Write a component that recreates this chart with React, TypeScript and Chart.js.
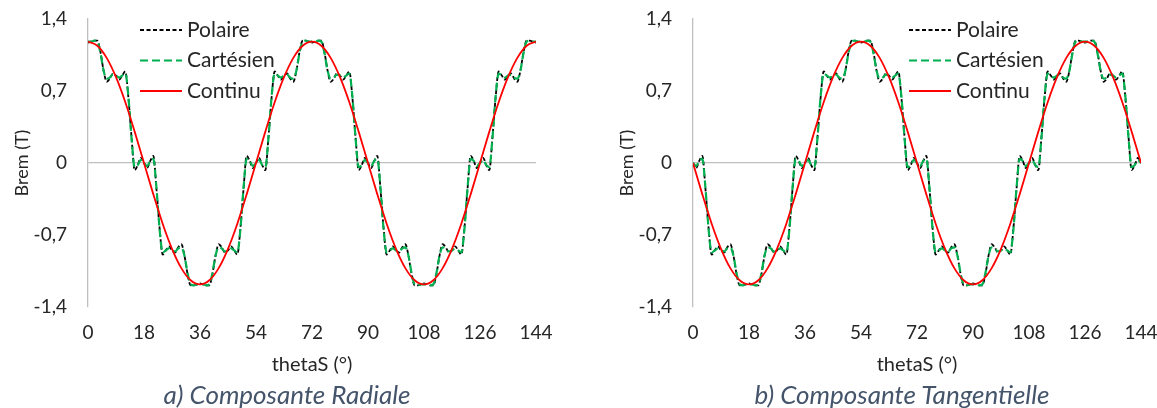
import React, { useEffect, useRef } from 'react';
import { Chart, registerables } from 'chart.js';

Chart.register(...registerables);

// ---------- data ----------
const thetaFine = [
  0, 1, 2, 3, 4, 5, 6, 7, 8, 9, 10, 11, 12, 13, 14, 15, 16, 17, 18,
  19, 20, 21, 22, 23, 24, 25, 26, 27, 28, 29, 30, 31, 32, 33, 34, 35, 36,
  37, 38, 39, 40, 41, 42, 43, 44, 45, 46, 47, 48, 49, 50, 51, 52, 53, 54,
  55, 56, 57, 58, 59, 60, 61, 62, 63, 64, 65, 66, 67, 68, 69, 70, 71, 72,
  73, 74, 75, 76, 77, 78, 79, 80, 81, 82, 83, 84, 85, 86, 87, 88, 89, 90,
  91, 92, 93, 94, 95, 96, 97, 98, 99, 100, 101, 102, 103, 104, 105, 106, 107, 108,
  109, 110, 111, 112, 113, 114, 115, 116, 117, 118, 119, 120, 121, 122, 123, 124, 125, 126,
  127, 128, 129, 130, 131, 132, 133, 134, 135, 136, 137, 138, 139, 140, 141, 142, 143, 144,
];

const thetaCoarse = [
  0, 3, 6, 9, 12, 15, 18, 21, 24, 27, 30, 33, 36, 39, 42, 45, 48, 51, 54, 57, 60, 63, 66, 69, 72,
  75, 78, 81, 84, 87, 90, 93, 96, 99, 102, 105, 108, 111, 114, 117, 120, 123, 126, 129, 132, 135, 138, 141, 144,
];

const xTickValues = [0, 18, 36, 54, 72, 90, 108, 126, 144];
const yTickValues = [-1.4, -0.7, 0, 0.7, 1.4];
const yTickLabels = ['-1,4', '-0,7', '0', '0,7', '1,4'];
const seriesNames = ['Polaire', 'Cartésien', 'Continu'];

const radialPolaire = [
  1.17, 1.18, 1.19, 1.19, 1.08, 0.90, 0.79, 0.82, 0.87, 0.85, 0.81, 0.85, 0.89, 0.63, 0.25, -0.07, -0.02, 0.05, 0,
  -0.05, 0.02, 0.07, -0.25, -0.63, -0.89, -0.85, -0.81, -0.85, -0.87, -0.82, -0.79, -0.90, -1.08, -1.19, -1.19, -1.18, -1.17,
  -1.18, -1.19, -1.19, -1.08, -0.90, -0.79, -0.82, -0.87, -0.85, -0.81, -0.85, -0.89, -0.63, -0.25, 0.07, 0.02, -0.05, 0,
  0.05, -0.02, -0.07, 0.25, 0.63, 0.89, 0.85, 0.81, 0.85, 0.87, 0.82, 0.79, 0.90, 1.08, 1.19, 1.19, 1.18, 1.17,
  1.18, 1.19, 1.19, 1.08, 0.90, 0.79, 0.82, 0.87, 0.85, 0.81, 0.85, 0.89, 0.63, 0.25, -0.07, -0.02, 0.05, 0,
  -0.05, 0.02, 0.07, -0.25, -0.63, -0.89, -0.85, -0.81, -0.85, -0.87, -0.82, -0.79, -0.90, -1.08, -1.19, -1.19, -1.18, -1.17,
  -1.18, -1.19, -1.19, -1.08, -0.90, -0.79, -0.82, -0.87, -0.85, -0.81, -0.85, -0.89, -0.63, -0.25, 0.07, 0.02, -0.05, 0,
  0.05, -0.02, -0.07, 0.25, 0.63, 0.89, 0.85, 0.81, 0.85, 0.87, 0.82, 0.79, 0.90, 1.08, 1.19, 1.19, 1.18, 1.17,
];

const radialCartesien = [
  1.18, 1.18, 1.19, 1.18, 1.07, 0.90, 0.82, 0.83, 0.86, 0.85, 0.83, 0.85, 0.87, 0.64, 0.24, -0.04, -0.02, 0.03, 0,
  -0.03, 0.02, 0.04, -0.24, -0.64, -0.87, -0.85, -0.83, -0.85, -0.86, -0.83, -0.82, -0.90, -1.07, -1.18, -1.19, -1.18, -1.18,
  -1.18, -1.19, -1.18, -1.07, -0.90, -0.82, -0.83, -0.86, -0.85, -0.83, -0.85, -0.87, -0.64, -0.24, 0.04, 0.02, -0.03, 0,
  0.03, -0.02, -0.04, 0.24, 0.64, 0.87, 0.85, 0.83, 0.85, 0.86, 0.83, 0.82, 0.90, 1.07, 1.18, 1.19, 1.18, 1.18,
  1.18, 1.19, 1.18, 1.07, 0.90, 0.82, 0.83, 0.86, 0.85, 0.83, 0.85, 0.87, 0.64, 0.24, -0.04, -0.02, 0.03, 0,
  -0.03, 0.02, 0.04, -0.24, -0.64, -0.87, -0.85, -0.83, -0.85, -0.86, -0.83, -0.82, -0.90, -1.07, -1.18, -1.19, -1.18, -1.18,
  -1.18, -1.19, -1.18, -1.07, -0.90, -0.82, -0.83, -0.86, -0.85, -0.83, -0.85, -0.87, -0.64, -0.24, 0.04, 0.02, -0.03, 0,
  0.03, -0.02, -0.04, 0.24, 0.64, 0.87, 0.85, 0.83, 0.85, 0.86, 0.83, 0.82, 0.90, 1.07, 1.18, 1.19, 1.18, 1.18,
];

const radialContinu = [
  1.18, 1.14, 1.022, 0.834, 0.59, 0.305, 0, -0.305, -0.59, -0.834, -1.022, -1.14, -1.18,
  -1.14, -1.022, -0.834, -0.59, -0.305, 0, 0.305, 0.59, 0.834, 1.022, 1.14, 1.18,
  1.14, 1.022, 0.834, 0.59, 0.305, 0, -0.305, -0.59, -0.834, -1.022, -1.14, -1.18,
  -1.14, -1.022, -0.834, -0.59, -0.305, 0, 0.305, 0.59, 0.834, 1.022, 1.14, 1.18,
];

const tangPolaire = [
  0,
  -0.05, 0.02, 0.07, -0.25, -0.63, -0.89, -0.85, -0.81, -0.85, -0.87, -0.82, -0.79, -0.90, -1.08, -1.19, -1.19, -1.18, -1.17,
  -1.18, -1.19, -1.19, -1.08, -0.90, -0.79, -0.82, -0.87, -0.85, -0.81, -0.85, -0.89, -0.63, -0.25, 0.07, 0.02, -0.05, 0,
  0.05, -0.02, -0.07, 0.25, 0.63, 0.89, 0.85, 0.81, 0.85, 0.87, 0.82, 0.79, 0.90, 1.08, 1.19, 1.19, 1.18, 1.17,
  1.18, 1.19, 1.19, 1.08, 0.90, 0.79, 0.82, 0.87, 0.85, 0.81, 0.85, 0.89, 0.63, 0.25, -0.07, -0.02, 0.05, 0,
  -0.05, 0.02, 0.07, -0.25, -0.63, -0.89, -0.85, -0.81, -0.85, -0.87, -0.82, -0.79, -0.90, -1.08, -1.19, -1.19, -1.18, -1.17,
  -1.18, -1.19, -1.19, -1.08, -0.90, -0.79, -0.82, -0.87, -0.85, -0.81, -0.85, -0.89, -0.63, -0.25, 0.07, 0.02, -0.05, 0,
  0.05, -0.02, -0.07, 0.25, 0.63, 0.89, 0.85, 0.81, 0.85, 0.87, 0.82, 0.79, 0.90, 1.08, 1.19, 1.19, 1.18, 1.17,
  1.18, 1.19, 1.19, 1.08, 0.90, 0.79, 0.82, 0.87, 0.85, 0.81, 0.85, 0.89, 0.63, 0.25, -0.07, -0.02, 0.05, 0,
];

const tangCartesien = [
  0,
  -0.03, 0.02, 0.04, -0.24, -0.64, -0.87, -0.85, -0.83, -0.85, -0.86, -0.83, -0.82, -0.90, -1.07, -1.18, -1.19, -1.18, -1.18,
  -1.18, -1.19, -1.18, -1.07, -0.90, -0.82, -0.83, -0.86, -0.85, -0.83, -0.85, -0.87, -0.64, -0.24, 0.04, 0.02, -0.03, 0,
  0.03, -0.02, -0.04, 0.24, 0.64, 0.87, 0.85, 0.83, 0.85, 0.86, 0.83, 0.82, 0.90, 1.07, 1.18, 1.19, 1.18, 1.18,
  1.18, 1.19, 1.18, 1.07, 0.90, 0.82, 0.83, 0.86, 0.85, 0.83, 0.85, 0.87, 0.64, 0.24, -0.04, -0.02, 0.03, 0,
  -0.03, 0.02, 0.04, -0.24, -0.64, -0.87, -0.85, -0.83, -0.85, -0.86, -0.83, -0.82, -0.90, -1.07, -1.18, -1.19, -1.18, -1.18,
  -1.18, -1.19, -1.18, -1.07, -0.90, -0.82, -0.83, -0.86, -0.85, -0.83, -0.85, -0.87, -0.64, -0.24, 0.04, 0.02, -0.03, 0,
  0.03, -0.02, -0.04, 0.24, 0.64, 0.87, 0.85, 0.83, 0.85, 0.86, 0.83, 0.82, 0.90, 1.07, 1.18, 1.19, 1.18, 1.18,
  1.18, 1.19, 1.18, 1.07, 0.90, 0.82, 0.83, 0.86, 0.85, 0.83, 0.85, 0.87, 0.64, 0.24, -0.04, -0.02, 0.03, 0,
];

const tangContinu = [
  0, -0.305, -0.59, -0.834, -1.022, -1.14, -1.18, -1.14, -1.022, -0.834, -0.59, -0.305, 0,
  0.305, 0.59, 0.834, 1.022, 1.14, 1.18, 1.14, 1.022, 0.834, 0.59, 0.305, 0,
  -0.305, -0.59, -0.834, -1.022, -1.14, -1.18, -1.14, -1.022, -0.834, -0.59, -0.305, 0,
  0.305, 0.59, 0.834, 1.022, 1.14, 1.18, 1.14, 1.022, 0.834, 0.59, 0.305, 0,
];

// ---------- styles ----------
const FONT = 'Lato, Calibri, "Open Sans", sans-serif';
const TEXT_COLOR = '#262626';
const AXIS_COLOR = '#bfbfbf';
const LINE_STYLES = [
  { color: '#000000', dash: [4, 2.5], width: 1.8 },
  { color: '#00b050', dash: [8, 4], width: 2.2 },
  { color: '#ff0000', dash: [] as number[], width: 1.8 },
];

const toPoints = (xs: number[], ys: number[]) => xs.map((x, i) => ({ x, y: ys[i] }));

type PanelProps = {
  left: number;
  polaire: number[];
  cartesien: number[];
  continu: number[];
  legendX: number;
};

const PLOT_LEFT = 88;
const PLOT_TOP = 19;
const PLOT_W = 448;
const CANVAS_W = 563;
const CANVAS_H = 384;
const PLOT_BOTTOM = 307;

function Panel({ left, polaire, cartesien, continu, legendX }: PanelProps) {
  const ref = useRef<HTMLCanvasElement | null>(null);

  useEffect(() => {
    if (!ref.current) return;
    const seriesData = [polaire, cartesien, continu];
    const seriesX = [thetaFine, thetaFine, thetaCoarse];

    const legendPlugin = {
      id: 'insideLegend',
      afterDatasetsDraw(chart: any) {
        const { ctx, chartArea } = chart;
        ctx.save();
        seriesNames.forEach((name, i) => {
          const st = LINE_STYLES[i];
          const y = chartArea.top + 11 + i * 30.5;
          const x0 = chartArea.left + legendX;
          ctx.beginPath();
          ctx.setLineDash(st.dash);
          ctx.strokeStyle = st.color;
          ctx.lineWidth = st.width;
          ctx.moveTo(x0, y);
          ctx.lineTo(x0 + 42, y);
          ctx.stroke();
          ctx.setLineDash([]);
          ctx.fillStyle = TEXT_COLOR;
          ctx.font = `21px ${FONT}`;
          ctx.textAlign = 'left';
          ctx.textBaseline = 'middle';
          ctx.fillText(name, x0 + 47, y);
        });
        ctx.restore();
      },
    };

    const chart = new Chart(ref.current, {
      type: 'line',
      data: {
        datasets: seriesNames.map((name, i) => ({
          label: name,
          data: toPoints(seriesX[i], seriesData[i]),
          borderColor: LINE_STYLES[i].color,
          borderWidth: LINE_STYLES[i].width,
          borderDash: LINE_STYLES[i].dash,
          pointRadius: 0,
          fill: false,
          cubicInterpolationMode: 'monotone',
          order: 2 - i,
        })),
      },
      options: {
        animation: false,
        responsive: false,
        maintainAspectRatio: false,
        layout: { padding: { left: 0, top: PLOT_TOP, right: CANVAS_W - PLOT_LEFT - PLOT_W, bottom: 0 } },
        plugins: { legend: { display: false }, tooltip: { enabled: false } },
        scales: {
          x: {
            type: 'linear',
            min: 0,
            max: 144,
            afterBuildTicks: (s: any) => {
              s.ticks = xTickValues.map((v) => ({ value: v }));
            },
            afterFit: (s: any) => {
              s.height = CANVAS_H - PLOT_BOTTOM;
              s.paddingLeft = 0;
              s.paddingRight = 0;
            },
            grid: { display: false },
            border: { display: false },
            ticks: {
              autoSkip: false,
              maxRotation: 0,
              padding: 6,
              color: TEXT_COLOR,
              font: { family: FONT, size: 19 },
              callback: (v: any) => String(v),
            },
            title: {
              display: true,
              text: 'thetaS (°)',
              color: TEXT_COLOR,
              font: { family: FONT, size: 20 },
              padding: { top: 0, bottom: 7 },
            },
          },
          y: {
            type: 'linear',
            min: -1.4,
            max: 1.4,
            afterBuildTicks: (s: any) => {
              s.ticks = yTickValues.map((v) => ({ value: v }));
            },
            afterFit: (s: any) => {
              s.width = PLOT_LEFT;
              s.paddingTop = 0;
              s.paddingBottom = 0;
            },
            grid: {
              drawTicks: false,
              lineWidth: 1.3,
              color: (c: any) => (c.tick && c.tick.value === 0 ? AXIS_COLOR : 'rgba(0,0,0,0)'),
            },
            border: { display: true, color: AXIS_COLOR, width: 1.3 },
            ticks: {
              padding: 21,
              color: TEXT_COLOR,
              font: { family: FONT, size: 19 },
              callback: (_v: any, i: number) => yTickLabels[i],
            },
            title: {
              display: true,
              text: 'Brem (T)',
              color: TEXT_COLOR,
              font: { family: FONT, size: 18 },
              padding: { top: 11, bottom: 0 },
            },
          },
        },
      } as any,
      plugins: [legendPlugin],
    });
    return () => chart.destroy();
  }, [polaire, cartesien, continu, legendX]);

  return (
    <div style={{ position: 'absolute', left, top: 0, width: CANVAS_W, height: CANVAS_H }}>
      <canvas ref={ref} width={CANVAS_W} height={CANVAS_H} style={{ width: CANVAS_W, height: CANVAS_H, display: 'block' }} />
    </div>
  );
}

const captionStyle: React.CSSProperties = {
  position: 'absolute',
  top: 379,
  width: 500,
  textAlign: 'center',
  fontFamily: FONT,
  fontStyle: 'italic',
  fontSize: 26,
  lineHeight: '30px',
  color: '#44546a',
  whiteSpace: 'nowrap',
};

export default function App() {
  return (
    <div style={{ position: 'absolute', left: 0, top: 0, width: 1157, height: 408, background: '#fff', overflow: 'hidden' }}>
      <Panel left={0} polaire={radialPolaire} cartesien={radialCartesien} continu={radialContinu} legendX={52} />
      <Panel left={605} polaire={tangPolaire} cartesien={tangCartesien} continu={tangContinu} legendX={216} />
      <div style={{ ...captionStyle, left: 287 - 250 }}>a) Composante Radiale</div>
      <div style={{ ...captionStyle, left: 902 - 250 }}>b) Composante Tangentielle</div>
    </div>
  );
}
